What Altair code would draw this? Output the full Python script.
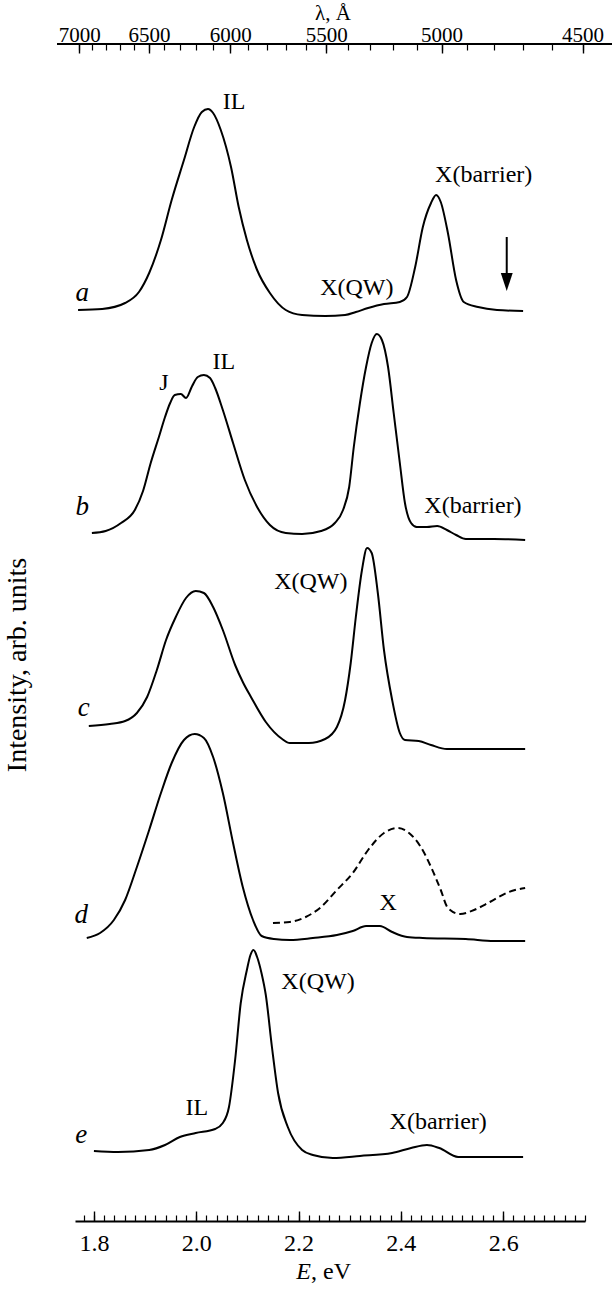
import altair as alt
import pandas as pd

# ---------------- data ----------------
# photon energy E (eV) and intensity (arb. units, above each curve's own baseline)
E_a = [1.769, 1.816, 1.861, 1.888, 1.908, 1.931, 1.952, 1.976, 1.996, 2.011, 2.023, 2.033, 2.048,
       2.068, 2.083, 2.099, 2.119, 2.144, 2.175, 2.207, 2.252, 2.291, 2.312, 2.336, 2.367, 2.398,
       2.412, 2.428, 2.443, 2.459, 2.469, 2.478, 2.492, 2.508, 2.523, 2.551, 2.588, 2.639]
I_a = [0.01, 0.02, 0.08, 0.19, 0.38, 0.71, 1.11, 1.51, 1.84, 1.99, 2.02, 1.98, 1.81,
       1.44, 1.04, 0.71, 0.41, 0.18, 0.01, -0.04, -0.05, -0.04, -0.01, 0.03, 0.07, 0.09,
       0.14, 0.44, 0.84, 1.08, 1.16, 1.09, 0.78, 0.31, 0.09, 0.04, 0.01, 0.00]

E_b = [1.796, 1.823, 1.853, 1.880, 1.896, 1.911, 1.927, 1.939, 1.949, 1.958, 1.970, 1.980, 1.992,
       2.003, 2.015, 2.027, 2.037, 2.052, 2.072, 2.095, 2.119, 2.144, 2.175, 2.207, 2.244, 2.271,
       2.287, 2.299, 2.308, 2.320, 2.332, 2.343, 2.353, 2.363, 2.375, 2.386, 2.398, 2.408, 2.420,
       2.431, 2.451, 2.471, 2.490, 2.508, 2.527, 2.582, 2.643]
I_b = [0.07, 0.09, 0.17, 0.30, 0.49, 0.77, 1.03, 1.23, 1.37, 1.45, 1.46, 1.42, 1.54,
       1.63, 1.65, 1.62, 1.52, 1.30, 0.97, 0.60, 0.33, 0.15, 0.07, 0.06, 0.09, 0.17,
       0.30, 0.53, 0.93, 1.37, 1.73, 1.97, 2.06, 2.00, 1.73, 1.27, 0.77, 0.37, 0.17,
       0.13, 0.13, 0.14, 0.10, 0.05, 0.01, 0.01, 0.00]

E_c = [1.790, 1.831, 1.861, 1.884, 1.904, 1.923, 1.941, 1.960, 1.980, 1.999, 2.015, 2.033, 2.052,
       2.076, 2.092, 2.107, 2.136, 2.168, 2.183, 2.220, 2.252, 2.275, 2.291, 2.302, 2.312, 2.324,
       2.334, 2.343, 2.355, 2.367, 2.383, 2.398, 2.408, 2.435, 2.459, 2.490, 2.643]
I_c = [0.23, 0.25, 0.28, 0.36, 0.52, 0.79, 1.09, 1.32, 1.51, 1.58, 1.56, 1.42, 1.19,
       0.84, 0.66, 0.52, 0.27, 0.10, 0.06, 0.06, 0.10, 0.22, 0.49, 0.86, 1.32, 1.79,
       2.01, 1.96, 1.56, 0.99, 0.49, 0.16, 0.09, 0.08, 0.04, 0.00, 0.00]

E_d = [1.786, 1.812, 1.839, 1.861, 1.884, 1.908, 1.931, 1.952, 1.976, 1.997, 2.015, 2.033, 2.052,
       2.072, 2.091, 2.111, 2.128, 2.152, 2.183, 2.228, 2.275, 2.306, 2.332, 2.359, 2.383, 2.412,
       2.443, 2.527, 2.582, 2.643]
I_d = [0.03, 0.08, 0.21, 0.41, 0.74, 1.11, 1.48, 1.78, 2.01, 2.07, 2.03, 1.84, 1.48,
       0.98, 0.54, 0.21, 0.05, 0.02, 0.01, 0.03, 0.06, 0.10, 0.15, 0.15, 0.09, 0.04,
       0.03, 0.02, 0.00, 0.00]

# dashed curve drawn with spectrum d
E_d2 = [2.150, 2.183, 2.214, 2.244, 2.275, 2.306, 2.336, 2.367, 2.394, 2.416, 2.439, 2.459,
        2.478, 2.492, 2.516, 2.543, 2.574, 2.611, 2.643]
I_d2 = [0.18, 0.19, 0.24, 0.34, 0.51, 0.68, 0.91, 1.08, 1.13, 1.08, 0.94, 0.74,
        0.51, 0.33, 0.27, 0.31, 0.39, 0.49, 0.53]

E_e = [1.800, 1.847, 1.908, 1.939, 1.968, 1.999, 2.037, 2.052, 2.064, 2.076, 2.087, 2.099, 2.106,
       2.112, 2.119, 2.128, 2.136, 2.148, 2.160, 2.179, 2.207, 2.228, 2.267, 2.320, 2.383, 2.420,
       2.451, 2.475, 2.512, 2.574, 2.639]
I_e = [0.06, 0.05, 0.07, 0.12, 0.20, 0.24, 0.28, 0.34, 0.50, 0.97, 1.54, 1.87, 2.02,
       2.07, 2.00, 1.83, 1.62, 1.10, 0.64, 0.30, 0.07, 0.02, -0.01, 0.01, 0.04, 0.09,
       0.12, 0.09, 0.00, 0.00, 0.00]

# vertical shift of each spectrum in the stack (arb. units)
curve_names = ["a", "b", "c", "d", "e"]
curve_shift = [9.10, 6.81, 4.72, 2.80, 0.64]

# peak labels: text, energy, stacked intensity
ann_text = ["IL", "X(barrier)", "X(QW)", "J", "IL", "X(barrier)", "X(QW)", "X", "IL", "X(QW)", "X(barrier)"]
ann_E = [2.074, 2.562, 2.314, 1.937, 2.054, 2.541, 2.224, 2.375, 2.001, 2.238, 2.473]
ann_Y = [11.19, 10.46, 9.33, 8.38, 8.59, 7.15, 6.39, 3.18, 1.13, 2.39, 0.99]

# curve letters
letter_E = [1.777, 1.777, 1.780, 1.775, 1.775]
letter_Y = [9.28, 7.14, 5.13, 3.06, 0.86]

# arrow in spectrum a
arrow_E = [2.607]
arrow_top = [9.84]
arrow_bottom = [9.45]
arrow_head = [9.39]

# axis ticks
E_major = [1.8, 2.0, 2.2, 2.4, 2.6]
E_minor = [round(1.78 + 0.02 * k, 2) for k in range(50)]
lam_major = [7000, 6500, 6000, 5500, 5000, 4500]
lam_minor = list(range(7000, 4499, -100))
HC = 12398.4  # eV*Angstrom

# ---------------- build tables ----------------
series = {"a": (E_a, I_a), "b": (E_b, I_b), "c": (E_c, I_c), "d": (E_d, I_d), "e": (E_e, I_e)}
shift = dict(zip(curve_names, curve_shift))
rows = []
for name in curve_names:
    Es, Is = series[name]
    for k, (e, i) in enumerate(zip(Es, Is)):
        rows.append({"curve": name, "E": e, "Y": i + shift[name], "k": k})
df = pd.DataFrame(rows)
df_dash = pd.DataFrame({"E": E_d2, "Y": [i + shift["d"] for i in I_d2], "k": list(range(len(E_d2)))})
df_ann = pd.DataFrame({"t": ann_text, "E": ann_E, "Y": ann_Y})
df_let = pd.DataFrame({"t": curve_names, "E": letter_E, "Y": letter_Y})
df_arrow = pd.DataFrame({"E": arrow_E, "Y": arrow_top, "Y2": arrow_bottom, "H": arrow_head})

SERIF = "Liberation Serif"
W, H = 510, 1177
xscale = alt.Scale(domain=[1.763, 2.76], nice=False, zero=False)
yscale = alt.Scale(domain=[0, 11.77], nice=False, zero=False)
Y = alt.Y("Y:Q", scale=yscale, axis=None)

lam_major_E = [HC / l for l in lam_major]
lam_minor_E = [HC / l for l in lam_minor]

common = dict(grid=False, title="", labelFlush=False, labelOverlap=False, labelBound=False,
              tickColor="black", domainColor="black", labelColor="black", labelFont=SERIF)

ax_bottom_major = alt.Axis(orient="bottom", values=E_major, format=".1f", offset=-10, tickSize=10,
                           tickWidth=1.4, domain=False, labelFontSize=24, labelPadding=10, **common)
ax_bottom_minor = alt.Axis(orient="bottom", values=E_minor, offset=-6, tickSize=6, tickWidth=1.2,
                           domain=False, labels=False, **common)
ax_bottom_dom = alt.Axis(orient="bottom", ticks=False, labels=False, domain=True, domainWidth=2, **common)
ax_top_major = alt.Axis(orient="top", values=lam_major_E, labelExpr=f"format({HC}/datum.value, '.0f')",
                        offset=-9, tickSize=9, tickWidth=1.4, domain=False, labelFontSize=21,
                        labelPadding=-1, **common)
ax_top_minor = alt.Axis(orient="top", values=lam_minor_E, offset=-6, tickSize=6, tickWidth=1.2,
                        domain=False, labels=False, **common)


def X(axis):
    return alt.X("E:Q", scale=xscale, axis=axis)


curves = alt.Chart(df).mark_line(color="black", strokeWidth=2, interpolate="monotone").encode(
    x=X(ax_bottom_major), y=Y, detail="curve:N", order="k:Q")

dashed = alt.Chart(df_dash).mark_line(color="black", strokeWidth=2, strokeDash=[7, 4],
                                      interpolate="monotone").encode(
    x=X(ax_bottom_minor), y=Y, order="k:Q")

ann = alt.Chart(df_ann).mark_text(font=SERIF, fontSize=24, color="black", align="center",
                                  baseline="middle").encode(x=X(ax_top_major), y=Y, text="t:N")
letters = alt.Chart(df_let).mark_text(font=SERIF, fontSize=27, fontStyle="italic", color="black",
                                      align="center", baseline="middle").encode(
    x=X(ax_top_minor), y=Y, text="t:N")

arrow_line = alt.Chart(df_arrow).mark_rule(color="black", strokeWidth=2).encode(
    x=X(None), y=Y, y2="Y2:Q")
arrow_tip = alt.Chart(df_arrow).mark_point(
    shape="M-0.66,-1L0.66,-1L0,1Z", filled=True, color="black", opacity=1, size=324).encode(
    x=X(ax_bottom_dom), y=alt.Y("H:Q", scale=yscale, axis=None))

# top axis line (runs wider than the energy axis in the original)
top_line = alt.Chart(pd.DataFrame({"t": [0]})).mark_rule(color="black", strokeWidth=2).encode(
    x=alt.value(-18), x2=alt.value(537), y=alt.value(0))

t_lam = alt.Chart(pd.DataFrame({"t": ["λ, Å"]})).mark_text(
    font=SERIF, fontSize=21, color="black", align="center", baseline="middle").encode(
    text="t:N", x=alt.value(258), y=alt.value(-30))
t_E = alt.Chart(pd.DataFrame({"t": ["E"]})).mark_text(
    font=SERIF, fontSize=24, fontStyle="italic", color="black", align="right", baseline="middle").encode(
    text="t:N", x=alt.value(236), y=alt.value(1228))
t_eV = alt.Chart(pd.DataFrame({"t": [", eV"]})).mark_text(
    font=SERIF, fontSize=24, color="black", align="left", baseline="middle").encode(
    text="t:N", x=alt.value(236), y=alt.value(1228))
t_int = alt.Chart(pd.DataFrame({"t": ["Intensity, arb. units"]})).mark_text(
    font=SERIF, fontSize=28, color="black", align="center", baseline="middle", angle=270).encode(
    text="t:N", x=alt.value(-57), y=alt.value(621))

chart = alt.layer(
    curves, dashed, ann, letters, arrow_line, arrow_tip, top_line, t_lam, t_E, t_eV, t_int
).resolve_axis(x="independent").properties(
    width=W, height=H,
    background="white",
    autosize=alt.AutoSizeParams(type="none"),
    padding={"left": 75, "top": 44, "right": 29, "bottom": 71},
).configure_view(strokeWidth=0)

chart.save("out.html", embed_options={"renderer": "svg", "actions": False})
